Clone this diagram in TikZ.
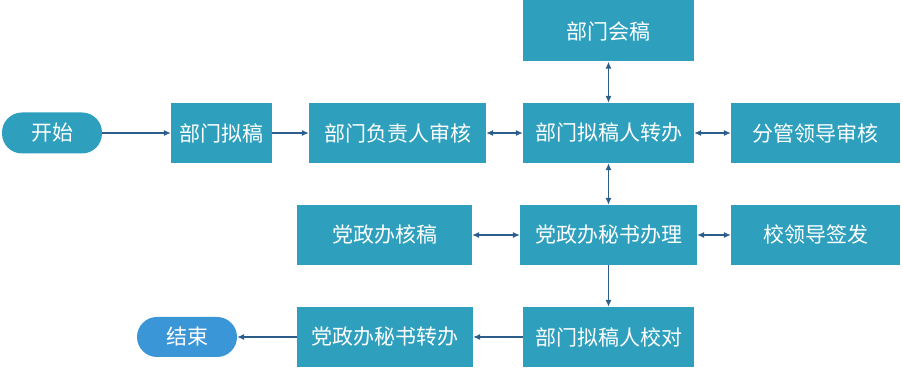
\documentclass[tikz,border=0pt]{standalone}
\usepackage{fontspec}
\setmainfont{Noto Sans CJK SC}
\usepackage{xcolor}
\usetikzlibrary{arrows.meta}
\definecolor{boxblue}{HTML}{2EA0BE}
\definecolor{endblue}{HTML}{3A96D6}
\definecolor{linkblue}{HTML}{2C5E8C}

\begin{document}
\begin{tikzpicture}[x=1pt,y=1pt,
    box/.style={fill=boxblue, text=white, minimum height=60pt, inner sep=0pt,
      font=\fontsize{21}{24}\selectfont},
    term/.style={box, rounded corners=20pt, minimum height=41pt, minimum width=100pt},
    link/.style={draw=linkblue, line width=1.1pt, -{Latex[length=7pt,width=6pt]}},
    both/.style={link, {Latex[length=7pt,width=6pt]}-{Latex[length=7pt,width=6pt]}}]
  \useasboundingbox (0,0) rectangle (903,369);
  % top rows
  \node[term] (start) at (52,236) {开始};
  \node[box, minimum width=101pt] (draft) at (221.5,236) {部门拟稿};
  \node[box, minimum width=177pt] (head) at (397.5,236) {部门负责人审核};
  \node[box, minimum width=171pt] (transfer) at (608.5,236) {部门拟稿人转办};
  \node[box, minimum width=169pt] (leader) at (815.5,236) {分管领导审核};
  \node[box, minimum width=171pt, minimum height=61pt] (cosign) at (608.5,338) {部门会稿};
  % middle row
  \node[box, minimum width=175pt] (check) at (384.5,134) {党政办核稿};
  \node[box, minimum width=177pt] (secretary) at (608.5,134) {党政办秘书办理};
  \node[box, minimum width=169pt] (sign) at (815.5,134) {校领导签发};
  % bottom row
  \node[box, minimum width=171pt] (proof) at (608.5,32) {部门拟稿人校对};
  \node[box, minimum width=176pt] (relay) at (385,32) {党政办秘书转办};
  \node[term, fill=endblue, minimum height=40pt] (finish) at (187,32) {结束};
  % connectors
  \draw[link] (start) -- (draft);
  \draw[link] (draft) -- (head);
  \draw[both] (head) -- (transfer);
  \draw[both] (transfer) -- (leader);
  \draw[both] (cosign) -- (transfer);
  \draw[both] (transfer) -- (secretary);
  \draw[both] (check) -- (secretary);
  \draw[both] (secretary) -- (sign);
  \draw[link] (secretary) -- (proof);
  \draw[link] (proof) -- (relay);
  \draw[link] (relay) -- (finish);
\end{tikzpicture}
\end{document}
